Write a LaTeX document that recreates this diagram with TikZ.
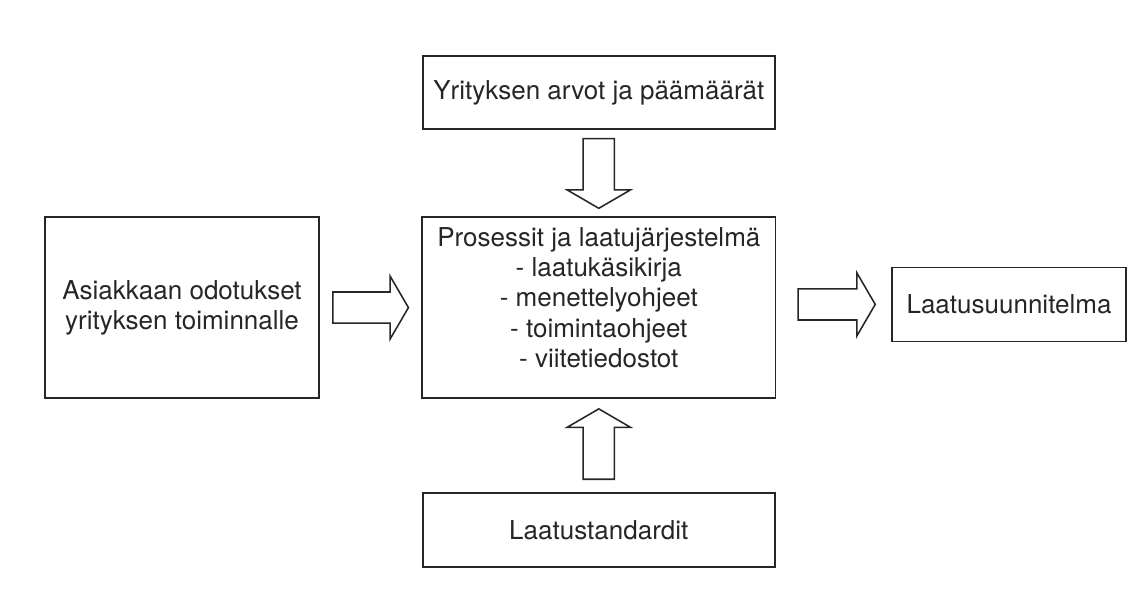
\documentclass[tikz,border=0pt]{standalone}
\usepackage{fontspec}
\setmainfont{TeX Gyre Heros}
\usepackage{xcolor}
\usepackage{tikz}
\usetikzlibrary{positioning, calc}
\definecolor{inkgray}{RGB}{38, 38, 38}

\begin{document}
\begin{tikzpicture}[
    box/.style={rectangle, draw=inkgray, line width=1.1pt, align=center, inner sep=0pt, text=inkgray, font=\fontsize{18.5}{21.6}\selectfont},
    blockarrow/.style 2 args={draw=inkgray, line width=1.1pt, line join=miter,
        to path={
            ($(\tikztostart)!#1!(\tikztotarget)$) coordinate (ba-s)
            ($(\tikztotarget)!#2!(\tikztostart)$) coordinate (ba-t)
            ($(ba-t)!0.46cm!(ba-s)$) coordinate (ba-h)
            ($(ba-s)!0.39cm!90:(ba-t)$) -- ($(ba-h)!0.39cm!90:(ba-t)$)
            -- ($(ba-h)!0.79cm!90:(ba-t)$) -- (ba-t)
            -- ($(ba-h)!0.79cm!-90:(ba-t)$) -- ($(ba-h)!0.39cm!-90:(ba-t)$)
            -- ($(ba-s)!0.39cm!-90:(ba-t)$) -- cycle
        }}
]
\useasboundingbox (0,0) rectangle (28.7,15.15);

% Boxes
\node[box, minimum width=8.8cm, minimum height=1.825cm] (values) at (14.97,12.84) {Yrityksen arvot ja päämäärät};
\node[box, minimum width=8.83cm, minimum height=4.525cm] (process) at (14.97,7.46) {Prosessit ja laatujärjestelmä\\- laatukäsikirja\\- menettelyohjeet\\- toimintaohjeet\\- viitetiedostot\\[-7pt] \mbox{}};
\node[box, minimum width=6.85cm, minimum height=4.525cm] (customer) at (4.55,7.46) {Asiakkaan odotukset\\yrityksen toiminnalle};
\node[box, minimum width=5.85cm, minimum height=1.85cm] (plan) at (25.225,7.54) {Laatusuunnitelma};
\node[box, minimum width=8.8cm, minimum height=1.85cm] (standards) at (14.97,1.9) {Laatustandardit};

% Block arrows
\draw[blockarrow={0.225cm}{0.2cm}] (values.south) to (process.north);
\draw[blockarrow={0.325cm}{0.25cm}] (standards.north) to (process.south);
\draw[blockarrow={0.325cm}{0.325cm}] (customer.east) to (process.west);
\draw[blockarrow={0.55cm}{0.4cm}] (process.east |- plan.west) to (plan.west);
\end{tikzpicture}
\end{document}
